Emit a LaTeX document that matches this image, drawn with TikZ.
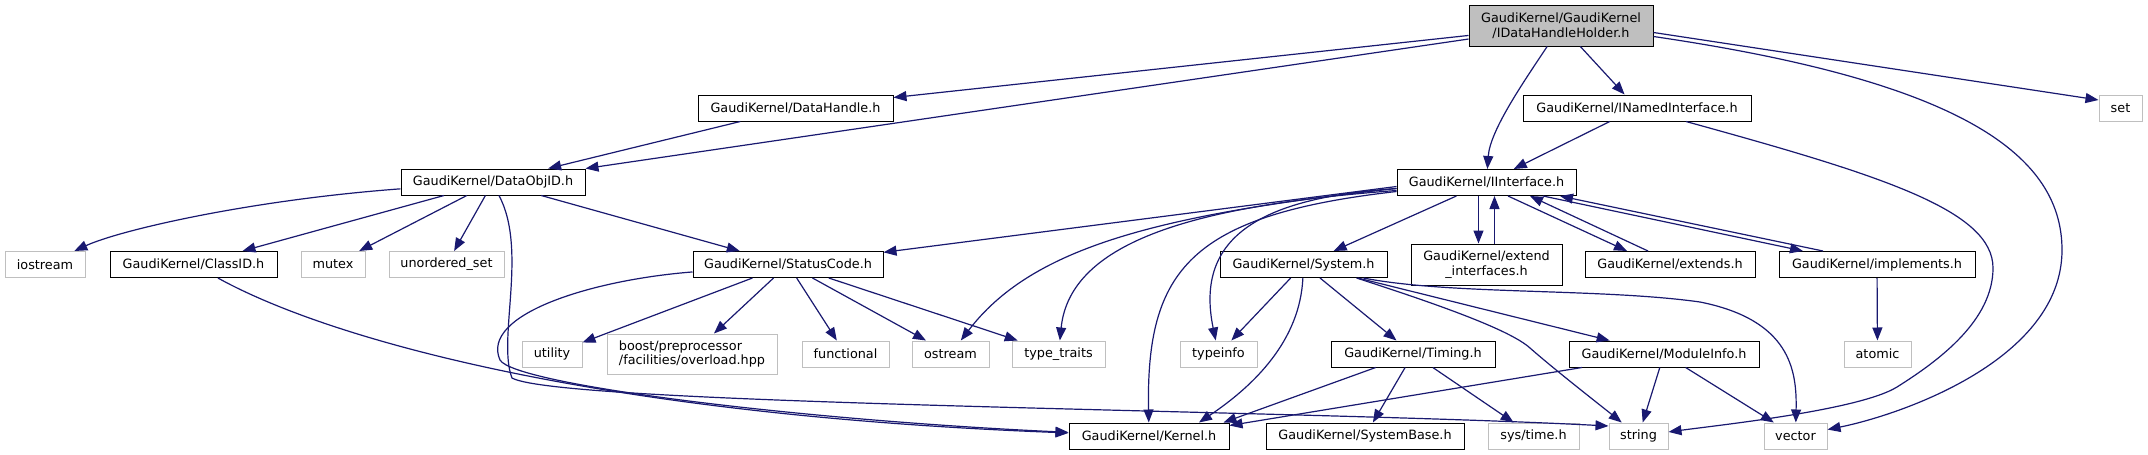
\documentclass[tikz,border=0pt]{standalone}
\usepackage{fontspec}
\setmainfont{DejaVu Sans}
\usetikzlibrary{arrows.meta}
\definecolor{edgeblue}{RGB}{25,25,112}
\definecolor{boxgray}{RGB}{191,191,191}
\begin{document}
\begin{tikzpicture}[x=1pt,y=1pt]
\tikzstyle{hdr}=[draw=black,line width=1pt,fill=white,minimum height=26pt,inner sep=0pt,font=\fontsize{12.8}{14.5}\selectfont]
\tikzstyle{syshdr}=[hdr,draw=boxgray]
\tikzstyle{inc}=[draw=edgeblue,line width=1.2pt,-{Triangle[length=13pt,width=10pt]}]
\useasboundingbox (0,0) rectangle (2148,-455);
\fill[white] (0,0) rectangle (2148,-455);
\node[hdr,fill=boxgray,minimum width=184pt,minimum height=41pt,align=center] (Root) at (1561,-25.5) {GaudiKernel/GaudiKernel\\/IDataHandleHolder.h};
\node[hdr,minimum width=195pt] (DataHandle) at (795.5,-108) {GaudiKernel/DataHandle.h};
\node[hdr,minimum width=228pt] (NamedIf) at (1637,-108) {GaudiKernel/INamedInterface.h};
\node[syshdr,minimum width=43pt] (Set) at (2120.5,-108) {set};
\node[hdr,minimum width=184pt] (DataObjID) at (493,-182) {GaudiKernel/DataObjID.h};
\node[hdr,minimum width=179pt] (IInterface) at (1486.5,-182.5) {GaudiKernel/IInterface.h};
\node[syshdr,minimum width=80pt] (IOStream) at (45,-264.5) {iostream};
\node[hdr,minimum width=167pt] (ClassID) at (193.5,-264.5) {GaudiKernel/ClassID.h};
\node[syshdr,minimum width=64pt] (Mutex) at (333,-264.5) {mutex};
\node[syshdr,minimum width=115pt] (UnordSet) at (446.5,-264.5) {unordered\_set};
\node[hdr,minimum width=190pt] (StatusCode) at (788,-264.5) {GaudiKernel/StatusCode.h};
\node[hdr,minimum width=167pt] (System) at (1303.5,-264.5) {GaudiKernel/System.h};
\node[hdr,minimum width=151pt,minimum height=41pt,align=center] (ExtendIf) at (1486.5,-264.5) {GaudiKernel/extend\\\_interfaces.h};
\node[hdr,minimum width=170pt] (Extends) at (1670,-264.5) {GaudiKernel/extends.h};
\node[hdr,minimum width=196pt] (Implements) at (1877,-264.5) {GaudiKernel/implements.h};
\node[syshdr,minimum width=60pt] (Utility) at (552,-354) {utility};
\node[syshdr,minimum width=170pt,minimum height=40pt,align=left] (Boost) at (692,-354) {boost/preprocessor\\/facilities/overload.hpp};
\node[syshdr,minimum width=87pt] (Functional) at (845.5,-354) {functional};
\node[syshdr,minimum width=77pt] (OStream) at (950.5,-354) {ostream};
\node[syshdr,minimum width=93pt] (TypeTraits) at (1058.5,-354) {type\_traits};
\node[syshdr,minimum width=77pt] (TypeInfo) at (1218.5,-354) {typeinfo};
\node[hdr,minimum width=164pt] (Timing) at (1413,-354) {GaudiKernel/Timing.h};
\node[hdr,minimum width=190pt] (ModuleInfo) at (1664,-354) {GaudiKernel/ModuleInfo.h};
\node[syshdr,minimum width=67pt] (Atomic) at (1877.5,-354) {atomic};
\node[hdr,minimum width=160pt] (Kernel) at (1149,-436) {GaudiKernel/Kernel.h};
\node[hdr,minimum width=198pt] (SystemBase) at (1365,-436) {GaudiKernel/SystemBase.h};
\node[syshdr,minimum width=91pt] (SysTime) at (1533.5,-436) {sys/time.h};
\node[syshdr,minimum width=59pt] (String) at (1638.5,-436) {string};
\node[syshdr,minimum width=63pt] (Vector) at (1795.5,-436) {vector};
\draw[inc] (Root) -- (DataHandle);
\draw[inc] (Root) -- (DataObjID);
\draw[inc] (DataHandle) -- (DataObjID);
\draw[inc] (Root) .. controls (1525,-80) and (1490,-130) .. (IInterface);
\draw[inc] (Root) -- (NamedIf);
\draw[inc] ([yshift=-7pt]Root.east) -- ([yshift=8pt]Set.west);
\draw[inc] ([yshift=-11pt]Root.east) .. controls (1950,-80) and (2062,-150) .. (2062,-250) .. controls (2062,-360) and (1900,-415) .. (Vector);
\draw[inc] (NamedIf) -- (IInterface);
\draw[inc] (NamedIf) .. controls (1880,-175) and (1993,-210) .. (1993,-268) .. controls (1993,-320) and (1940,-360) .. (1897,-387) .. controls (1860,-410) and (1720,-425) .. (String);
\draw[inc] ([yshift=-4pt]IInterface.west) -- (StatusCode);
\draw[inc] ([yshift=-6pt]IInterface.west) .. controls (1150,-215) and (1030,-250) .. (OStream);
\draw[inc] ([yshift=-8pt]IInterface.west) .. controls (1200,-205) and (1070,-240) .. (TypeTraits);
\draw[inc] ([yshift=-9pt]IInterface.west) .. controls (1190,-215) and (1146,-270) .. (Kernel);
\draw[inc] (IInterface) .. controls (1255,-198) and (1195,-240) .. (TypeInfo);
\draw[inc] (IInterface) -- (System);
\draw[inc] ([xshift=-8pt]IInterface.south) -- ([xshift=-8pt]ExtendIf.north);
\draw[inc] ([xshift=8pt]ExtendIf.north) -- ([xshift=8pt]IInterface.south);
\draw[inc] ([xshift=21.5pt]IInterface.south) -- ([xshift=-43pt]Extends.north);
\draw[inc] ([xshift=-22pt]Extends.north) -- ([xshift=43.5pt]IInterface.south);
\draw[inc] ([xshift=56.5pt]IInterface.south) -- ([xshift=-74pt]Implements.north);
\draw[inc] ([xshift=-54pt]Implements.north) -- ([xshift=73.5pt]IInterface.south);
\draw[inc] (Implements) -- (Atomic);
\draw[inc] (DataObjID) .. controls (250,-200) and (120,-230) .. (IOStream);
\draw[inc] (DataObjID) -- (ClassID);
\draw[inc] (DataObjID) -- (Mutex);
\draw[inc] (DataObjID) -- (UnordSet);
\draw[inc] (DataObjID) -- (StatusCode);
\draw[inc] ([xshift=6pt]DataObjID.south) .. controls (528,-250) and (497,-340) .. (512,-378) .. controls (560,-405) and (1300,-410) .. ([yshift=10pt]String.west);
\draw[inc] (ClassID) .. controls (330,-340) and (600,-415) .. (Kernel);
\draw[inc] (StatusCode) .. controls (590,-280) and (480,-315) .. (500,-360) .. controls (515,-385) and (800,-420) .. (Kernel);
\draw[inc] (StatusCode) -- (Utility);
\draw[inc] (StatusCode) -- (Boost);
\draw[inc] (StatusCode) -- (Functional);
\draw[inc] (StatusCode) -- (OStream);
\draw[inc] (StatusCode) -- (TypeTraits);
\draw[inc] (System) -- (TypeInfo);
\draw[inc] (System) .. controls (1300,-340) and (1255,-385) .. ([xshift=50pt]Kernel.north);
\draw[inc] (System) -- (Timing);
\draw[inc] ([xshift=53pt]System.south) .. controls (1440,-305) and (1510,-330) .. (1530,-348) .. controls (1555,-370) and (1600,-405) .. (String);
\draw[inc] (System) -- (ModuleInfo);
\draw[inc] ([xshift=60pt]System.south) .. controls (1450,-295) and (1600,-288) .. (1700,-302) .. controls (1790,-320) and (1797,-370) .. (Vector);
\draw[inc] (Timing) -- ([xshift=-6pt]Kernel.north east);
\draw[inc] (Timing) -- (SystemBase);
\draw[inc] (Timing) -- (SysTime);
\draw[inc] (ModuleInfo) -- ([yshift=-3pt]Kernel.north east);
\draw[inc] (ModuleInfo) -- (String);
\draw[inc] (ModuleInfo) -- (Vector);
\end{tikzpicture}
\end{document}
